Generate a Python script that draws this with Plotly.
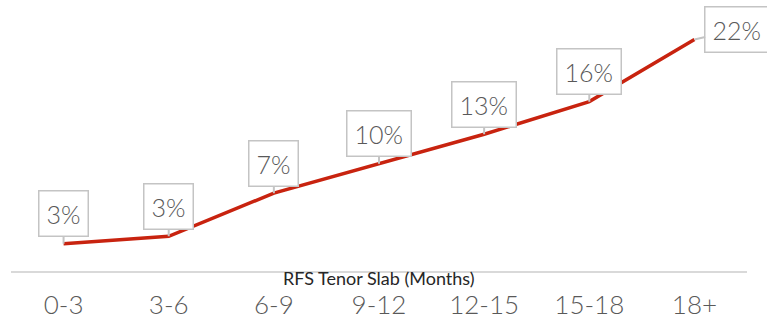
import plotly.graph_objects as go

categories = ["0-3", "3-6", "6-9", "9-12", "12-15", "15-18", "18+"]
values = [2.6, 3.3, 7.4, 10.2, 13.0, 16.1, 22.0]
labels = ["3%", "3%", "7%", "10%", "13%", "16%", "22%"]
axis_title = "RFS Tenor Slab (Months)"

FONT = "Lato"

fig = go.Figure()
fig.add_trace(go.Scatter(
    x=categories, y=values, mode="lines",
    line=dict(color="#c8230f", width=3.5),
    hoverinfo="skip", showlegend=False,
))

for i, (c, v, t) in enumerate(zip(categories, values, labels)):
    last = i == len(categories) - 1
    fig.add_annotation(
        x=c, y=v, text=t, xref="x", yref="y",
        showarrow=True, arrowhead=0, arrowwidth=2, arrowcolor="#c4c4c4",
        ax=43 if last else 0, ay=-10 if last else -30, standoff=0,
        font=dict(family=FONT, size=25, color="#595959", weight=300),
        bgcolor="white", bordercolor="#c4c4c4", borderwidth=1.5, borderpad=7,
    )

fig.add_annotation(
    x=0.5, y=0, xref="paper", yref="paper", yanchor="top",
    yshift=6, showarrow=False, text=axis_title,
    font=dict(family=FONT, size=18, color="#262626"),
)

fig.update_xaxes(
    range=[-0.5, 6.5], automargin=False,
    showline=True, linecolor="#d9d9d9", linewidth=1.5,
    showgrid=False, zeroline=False,
    ticks="outside", ticklen=10, tickcolor="rgba(0,0,0,0)",
    tickfont=dict(family=FONT, size=26, color="#595959", weight=300),
)
fig.update_yaxes(visible=False, range=[0, 25])

fig.update_layout(
    width=767, height=321,
    margin=dict(l=11, r=20, t=8, b=50),
    paper_bgcolor="white", plot_bgcolor="white",
)

fig.write_html("out.html")
